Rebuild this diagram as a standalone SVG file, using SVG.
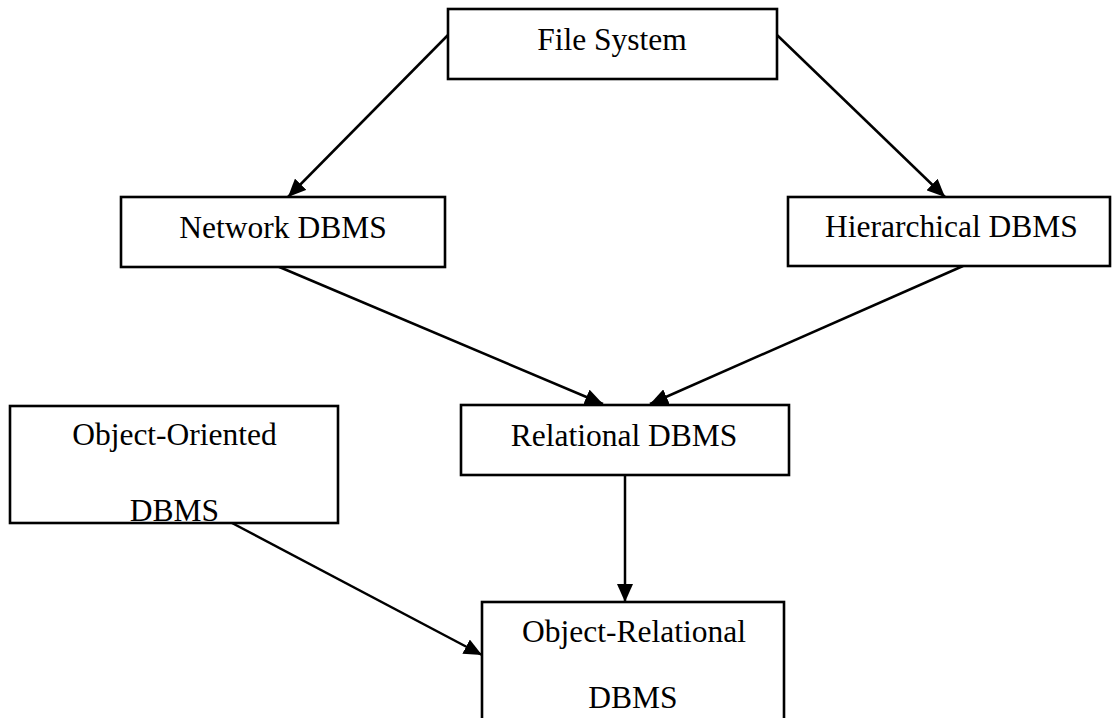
<svg xmlns="http://www.w3.org/2000/svg" width="1112" height="718" viewBox="0 0 1112 718">
  <style>
    .box { fill: #ffffff; stroke: #000000; stroke-width: 2.6; }
    .lbl { font-family: "Liberation Serif", "Times New Roman", serif; font-size: 31.5px; fill: #000000; text-anchor: middle; }
    .edge { stroke: #000000; stroke-width: 2.5; fill: none; marker-end: url(#arrow); }
  </style>
  <defs>
    <marker id="arrow" markerUnits="userSpaceOnUse" markerWidth="18" markerHeight="16" refX="18" refY="8" orient="auto">
      <path d="M0,0 L18,8 L0,16 z" fill="#000000"/>
    </marker>
  </defs>
  <rect width="1112" height="718" fill="#ffffff"/>

  <g id="connectors">
    <line class="edge" x1="448" y1="35" x2="288" y2="197"/>
    <line class="edge" x1="777" y1="35" x2="945" y2="197"/>
    <line class="edge" x1="277" y1="266" x2="603" y2="404"/>
    <line class="edge" x1="963" y1="266" x2="650" y2="404"/>
    <line class="edge" x1="625" y1="475" x2="625" y2="602"/>
    <line class="edge" x1="232" y1="523" x2="482" y2="655"/>
  </g>

  <g id="file-system">
    <rect class="box" x="448" y="9" width="329" height="70"/>
    <text class="lbl" x="612" y="50">File System</text>
  </g>

  <g id="network-dbms">
    <rect class="box" x="121" y="197" width="324" height="70"/>
    <text class="lbl" x="283" y="238">Network DBMS</text>
  </g>

  <g id="hierarchical-dbms">
    <rect class="box" x="788" y="197" width="322" height="69"/>
    <text class="lbl" x="951.5" y="237">Hierarchical DBMS</text>
  </g>

  <g id="relational-dbms">
    <rect class="box" x="461" y="405" width="328" height="70"/>
    <text class="lbl" x="624" y="446">Relational DBMS</text>
  </g>

  <g id="object-oriented-dbms">
    <rect class="box" x="10" y="406" width="328" height="117"/>
    <text class="lbl" x="174.5" y="445">Object-Oriented</text>
    <text class="lbl" x="174.5" y="521">DBMS</text>
  </g>

  <g id="object-relational-dbms">
    <rect class="box" x="482" y="602" width="302" height="140"/>
    <text class="lbl" x="634" y="642">Object-Relational</text>
    <text class="lbl" x="633" y="708">DBMS</text>
  </g>
</svg>
